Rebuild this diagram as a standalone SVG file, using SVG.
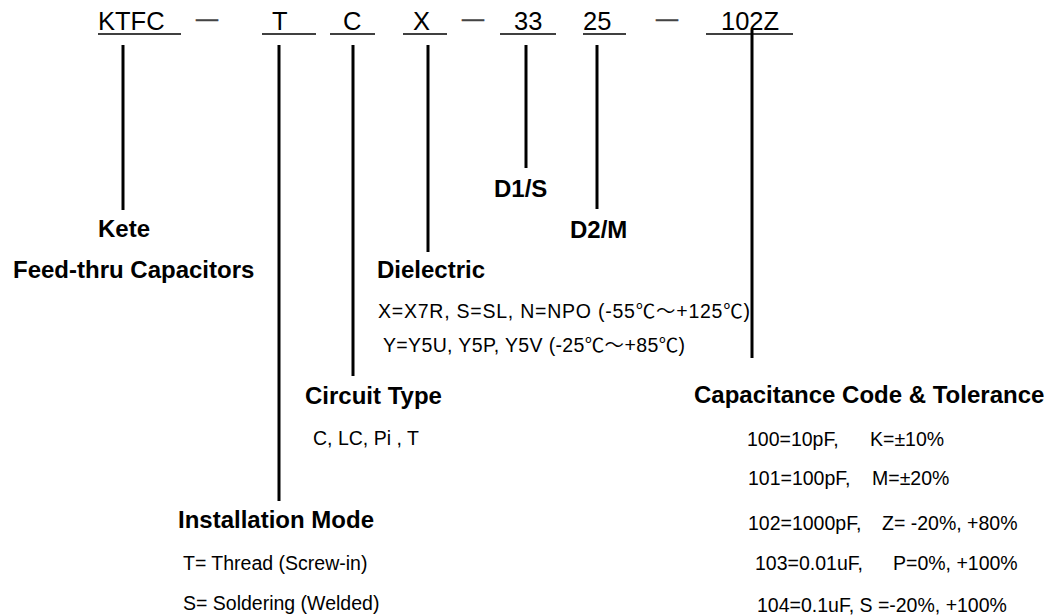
<svg xmlns="http://www.w3.org/2000/svg" width="1045" height="616" viewBox="0 0 1045 616">
<style>
text{font-family:"Liberation Sans","Noto Sans CJK SC",Arial,sans-serif;fill:#000}
.code{font-size:25.5px}
.dash{font-size:22px;fill:#444;stroke:#444;stroke-width:0.6}
.h{font-size:24px;font-weight:bold}
.t{font-size:19.5px}
.ul{stroke:#000;stroke-width:1.3}
.con{stroke:#000;stroke-width:3;fill:none}
</style>
<rect width="1045" height="616" fill="#fff"/>
<g id="code">
<text class="code" x="98" y="30">KTFC</text>
<text class="code" x="272" y="30">T</text>
<text class="code" x="343" y="30">C</text>
<text class="code" x="413" y="30">X</text>
<text class="code" x="514" y="30">33</text>
<text class="code" x="583" y="30">25</text>
<text class="code" x="721" y="30">102Z</text>
<text class="dash" x="196" y="26">—</text>
<text class="dash" x="462" y="26">—</text>
<text class="dash" x="656" y="26">—</text>
<line class="ul" x1="98" y1="34" x2="181" y2="34"/>
<line class="ul" x1="262" y1="34" x2="316" y2="34"/>
<line class="ul" x1="330" y1="34" x2="375" y2="34"/>
<line class="ul" x1="403" y1="34" x2="447" y2="34"/>
<line class="ul" x1="500" y1="34" x2="556" y2="34"/>
<line class="ul" x1="583" y1="34" x2="626" y2="34"/>
<line class="ul" x1="706" y1="34" x2="793" y2="34"/>
</g>
<g id="connectors">
<line class="con" x1="123" y1="45" x2="123" y2="210"/>
<line class="con" x1="279" y1="45" x2="279" y2="501"/>
<line class="con" x1="353" y1="45" x2="353" y2="376"/>
<line class="con" x1="428" y1="45" x2="428" y2="252"/>
<line class="con" x1="526" y1="45" x2="526" y2="168"/>
<line class="con" x1="597" y1="45" x2="597" y2="209"/>
<line class="con" x1="752" y1="30" x2="752" y2="358"/>
</g>
<g id="kete">
<text class="h" x="98" y="237">Kete</text>
<text class="h" x="13" y="278">Feed-thru Capacitors</text>
</g>
<g id="d1">
<text class="h" x="494" y="197">D1/S</text>
</g>
<g id="d2">
<text class="h" x="570" y="238">D2/M</text>
</g>
<g id="dielectric">
<text class="h" x="377" y="278">Dielectric</text>
<text class="t" x="378" y="318" textLength="372" lengthAdjust="spacing">X=X7R, S=SL, N=NPO (-55℃～+125℃)</text>
<text class="t" x="383" y="352" textLength="302" lengthAdjust="spacing">Y=Y5U, Y5P, Y5V (-25℃～+85℃)</text>
</g>
<g id="circuit">
<text class="h" x="305" y="404">Circuit Type</text>
<text class="t" x="313" y="445">C, LC, Pi , T</text>
</g>
<g id="installation">
<text class="h" x="178" y="528">Installation Mode</text>
<text class="t" x="183" y="570">T= Thread (Screw-in)</text>
<text class="t" x="183" y="610">S= Soldering (Welded)</text>
</g>
<g id="capacitance">
<text class="h" x="694" y="403">Capacitance Code &amp; Tolerance</text>
<text class="t" x="747" y="446">100=10pF,</text><text class="t" x="870" y="446">K=±10%</text>
<text class="t" x="748" y="485">101=100pF,</text><text class="t" x="872" y="485">M=±20%</text>
<text class="t" x="748" y="530">102=1000pF,</text><text class="t" x="882" y="530">Z= -20%, +80%</text>
<text class="t" x="755" y="570">103=0.01uF,</text><text class="t" x="893" y="570">P=0%, +100%</text>
<text class="t" x="757" y="612">104=0.1uF, S =-20%, +100%</text>
</g>
</svg>
